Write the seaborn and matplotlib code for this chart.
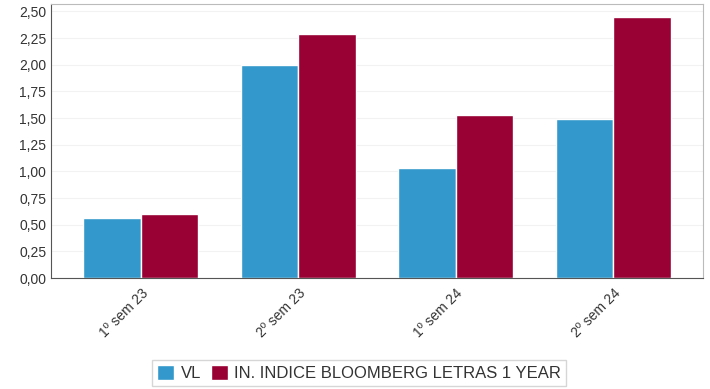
import pandas as pd
import seaborn as sns
import matplotlib.pyplot as plt
from matplotlib.ticker import FuncFormatter

# Données
periodos = ["1º sem 23", "2º sem 23", "1º sem 24", "2º sem 24"]
vl = [0.56, 2.00, 1.03, 1.49]
indice = [0.60, 2.29, 1.53, 2.45]
series = ["VL", "IN. INDICE BLOOMBERG LETRAS 1 YEAR"]

df = pd.DataFrame({
    "periodo": periodos * 2,
    "serie": [series[0]] * 4 + [series[1]] * 4,
    "valor": vl + indice,
})

sns.set_style("white")
plt.rcParams['font.family'] = ['Liberation Sans', 'DejaVu Sans']

fig = plt.figure(figsize=(7.1, 3.89), dpi=100)
ax = fig.add_axes([0.072, 0.285, 0.918, 0.705])

palette = {series[0]: "#3399cc", series[1]: "#990033"}
sns.barplot(data=df, x="periodo", y="valor", hue="serie", palette=palette,
            width=0.73, edgecolor="white", linewidth=1, saturation=1, ax=ax)

ax.set_xlim(-0.57, 3.57)
ax.set_ylim(0, 2.57)
ax.set_yticks([i * 0.25 for i in range(11)])
ax.yaxis.set_major_formatter(FuncFormatter(lambda v, p: f"{v:.2f}".replace(".", ",")))
ax.grid(axis="y", color="#f2f2f2", linewidth=0.8)
ax.set_axisbelow(True)
ax.set_xlabel("")
ax.set_ylabel("")

for side in ["left", "bottom"]:
    ax.spines[side].set_color("#555555")
for side in ["top", "right"]:
    ax.spines[side].set_color("#bbbbbb")

ax.tick_params(axis="both", labelsize=10, colors="#333333", length=0)
ax.tick_params(axis="x", pad=6)
plt.setp(ax.get_xticklabels(), rotation=45, ha="right", rotation_mode="anchor")

leg = ax.legend(loc="center", bbox_to_anchor=(0.473, -0.345), ncol=2,
                fontsize=12, frameon=True, fancybox=False, edgecolor="#cccccc",
                handlelength=1.0, handleheight=1.0, handletextpad=0.4,
                columnspacing=0.6, borderpad=0.3)
for t in leg.get_texts():
    t.set_color("#333333")

fig.savefig("out.png", dpi=100)
